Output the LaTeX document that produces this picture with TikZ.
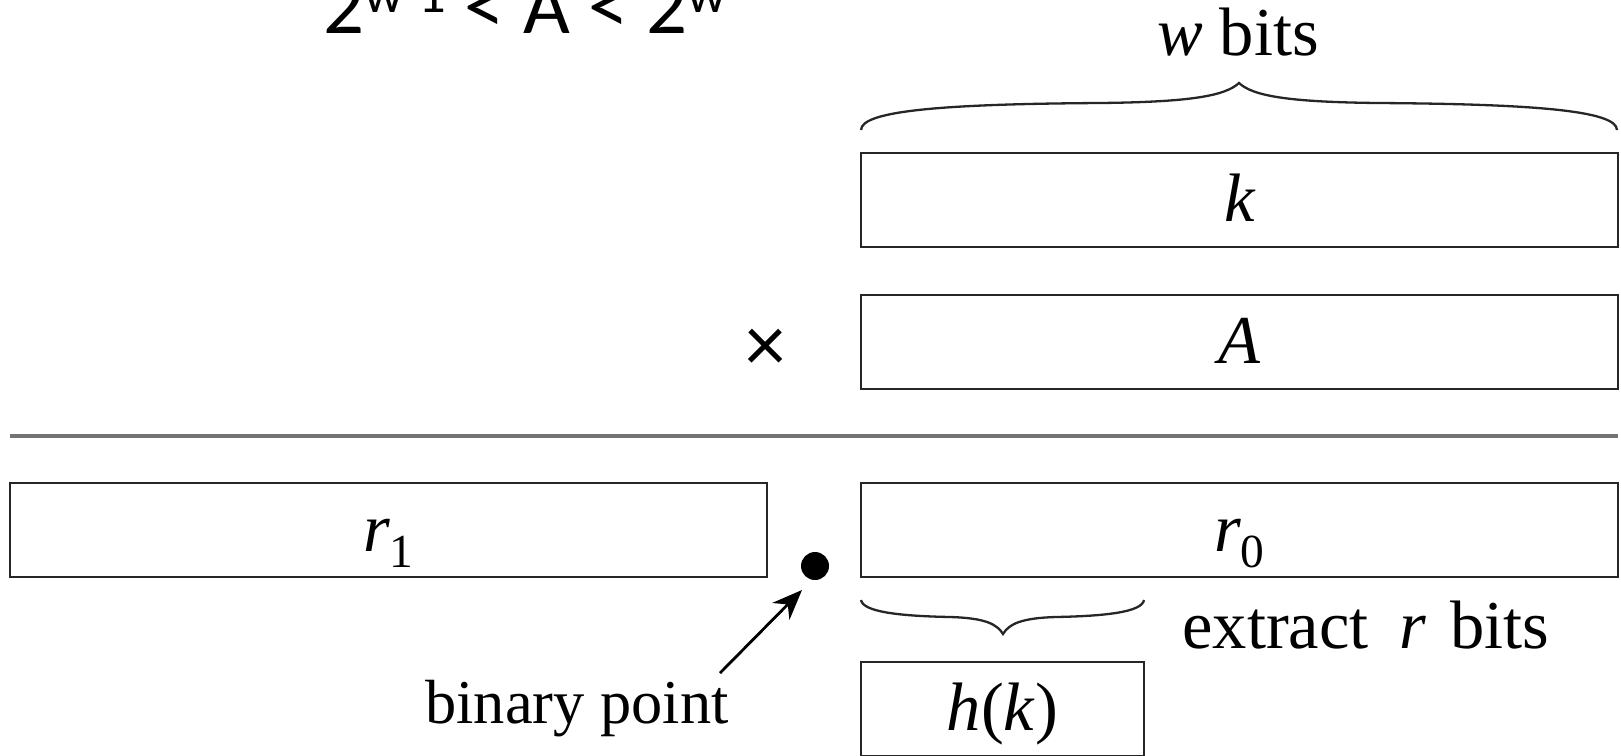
\documentclass[tikz,border=0pt]{standalone}
\usepackage{fontspec}
\setmainfont{Liberation Serif}
\newfontfamily\calib{Carlito}
\usetikzlibrary{arrows.meta}
\begin{document}
\begin{tikzpicture}[x=0.02cm,y=-0.02cm,
  lbl/.style={font=\fontsize{39}{44}\selectfont, inner sep=0pt},
  bitbox/.style={draw=black!85, line width=2.6*0.569pt, minimum height=94*0.02cm,
    inner sep=0pt, text height=25pt, text depth=0pt, font=\fontsize{39}{44}\selectfont\itshape},
  bracepath/.style={draw=black!85, line width=2.3*0.569pt},
  ptr/.style={draw=black, line width=2.8*0.569pt, -{Stealth[length=30*0.02cm, width=24*0.02cm]}}
]
\useasboundingbox (0,0) rectangle (1621,755);

% top equation (clipped at top)
\node[anchor=base west, inner sep=0pt, font=\calib\fontsize{46}{50}\selectfont] (topeq) at (323,33)
  {2\raisebox{11.4pt}{\fontsize{31}{34}\selectfont w-1} < A < 2\raisebox{11.4pt}{\fontsize{31}{34}\selectfont w}};

% w bits brace
\node[lbl, anchor=base] (wbits) at (1238,55) {\textit{w} bits};
\path[bracepath] (861,130) .. controls (861,110) and (950,104) .. (1100,103)
  .. controls (1190,102) and (1225,96) .. (1239,83)
  .. controls (1253,96) and (1288,102) .. (1378,103)
  .. controls (1527,104) and (1617,110) .. (1617,130);

% operand boxes
\node[bitbox, minimum width=757*0.02cm] (kbox) at (1239.5,200) {k};
\node[bitbox, minimum width=757*0.02cm] (Abox) at (1239.5,342) {A};
\node[inner sep=0pt, font=\calib\fontsize{46}{50}\selectfont] (times) at (766,350) {×};

% rule
\draw[draw=black!55, line width=3.5*0.569pt] (10,436) -- (1618,436);

% result boxes
\node[bitbox, minimum width=757*0.02cm] (r1box) at (388.5,530) {r\raisebox{-0.22em}{\upshape\fontsize{27}{30}\selectfont 1}};
\node[bitbox, minimum width=757*0.02cm] (r0box) at (1239.5,530) {r\raisebox{-0.22em}{\upshape\fontsize{27}{30}\selectfont 0}};

% binary point
\node[circle, fill=black, inner sep=0pt, minimum size=28*0.02cm] (bp) at (815,566) {};
\node[inner sep=0pt, font=\fontsize{35.5}{40}\selectfont, anchor=base] (bplabel) at (577,723) {binary point};
\coordinate (bptail) at (720,673);
\coordinate (bptip) at (802,590);
\draw[ptr] (bptail) -- (bptip);

% extract brace
\path[bracepath] (861,600) .. controls (863,612) and (900,616) .. (950,617)
  .. controls (985,618) and (997,624) .. (1003,634)
  .. controls (1009,624) and (1021,618) .. (1056,617)
  .. controls (1106,616) and (1142,612) .. (1144,600);
\node[lbl, anchor=base west] (extract) at (1182,648) {extract\hspace{0.45em}\textit{r}\hspace{0.35em}bits};

% h(k)
\node[bitbox, minimum width=283*0.02cm] (hbox) at (1002.5,709) {h\textup{(}k\textup{)}};
\end{tikzpicture}
\end{document}
